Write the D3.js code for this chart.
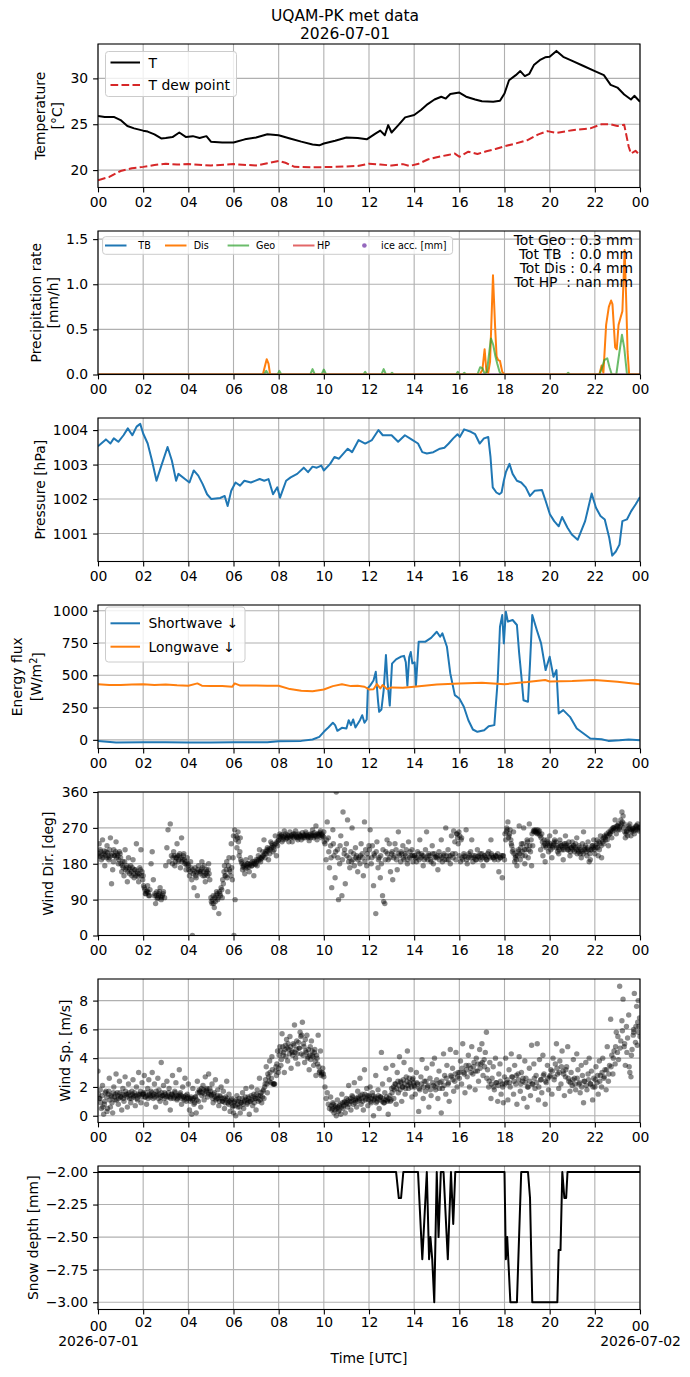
<!DOCTYPE html>
<html>
<head>
<meta charset="utf-8">
<script src="https://cdn.jsdelivr.net/npm/d3@7"></script>
<style>
  body { margin: 0; background: #fff; }
  svg { font-family: "DejaVu Sans", sans-serif; }
  text { fill: #000; font-size: 13.9px; }
  .tick text { font-size: 13.9px; }
  .tick line { stroke: #000; stroke-width: 1.1; }
  .grid line { stroke: #b0b0b0; stroke-width: 1.1; }
</style>
</head>
<body>
<svg id="chart" width="690" height="1377"></svg>
<script>
// ---- data (hours since 2026-07-01 00:00 UTC) ----
const hourTicks = d3.range(0, 25, 2);

const tempT = [[0,25.9],[0.3,25.8],[0.7,25.8],[1.0,25.45],[1.3,24.8],[1.6,24.55],[2.0,24.3],[2.2,24.2],[2.5,23.9],[2.8,23.45],[3.0,23.5],[3.3,23.6],[3.6,24.1],[3.9,23.6],[4.2,23.7],[4.5,23.5],[4.8,23.7],[5.0,23.1],[5.5,23.0],[6.0,23.0],[6.5,23.35],[7.0,23.55],[7.5,23.9],[8.0,23.8],[8.5,23.45],[9.0,23.1],[9.5,22.8],[9.8,22.7],[10.0,22.9],[10.5,23.2],[11.0,23.55],[11.5,23.5],[11.9,23.35],[12.3,24.0],[12.5,24.3],[12.7,23.8],[12.85,24.9],[13.0,24.1],[13.3,24.9],[13.6,25.75],[14.0,26.0],[14.3,26.55],[14.6,27.2],[14.9,27.7],[15.2,28.0],[15.4,27.8],[15.6,28.3],[16.0,28.45],[16.3,28.0],[16.7,27.7],[17.0,27.5],[17.5,27.45],[17.8,27.55],[18.0,28.35],[18.2,29.8],[18.5,30.35],[18.7,30.8],[18.9,30.25],[19.1,30.5],[19.3,31.45],[19.6,32.05],[19.8,32.3],[20.0,32.35],[20.3,33.0],[20.6,32.35],[21.0,31.9],[21.5,31.35],[22.0,30.8],[22.4,30.35],[22.7,29.3],[23.0,29.0],[23.3,28.25],[23.6,27.7],[23.75,28.1],[24.0,27.45]];

const tempDew = [[0,18.9],[0.5,19.25],[1.0,19.9],[1.5,20.2],[2.0,20.35],[2.5,20.55],[3.0,20.7],[3.5,20.6],[4.0,20.65],[5.0,20.5],[6.0,20.65],[7.0,20.5],[7.5,20.75],[8.0,21.0],[8.3,20.8],[8.7,20.35],[9.5,20.3],[10.5,20.35],[11.5,20.45],[12.0,20.7],[12.5,20.6],[13.0,20.5],[13.5,20.65],[13.8,20.45],[14.2,20.7],[14.6,21.15],[15.0,21.4],[15.5,21.65],[15.8,21.8],[16.0,21.45],[16.4,22.0],[16.8,21.75],[17.2,22.05],[17.6,22.3],[18.0,22.6],[18.5,22.9],[19.0,23.25],[19.5,23.9],[19.9,24.25],[20.3,24.05],[21.0,24.35],[21.8,24.55],[22.3,25.0],[22.7,25.0],[23.0,24.8],[23.3,24.95],[23.5,22.55],[23.6,21.8],[23.8,22.1],[24.0,21.6]];

const precipTB = [[0,0],[24,0]];
const precipDis = [[0,0],[7.3,0],[7.38,0.08],[7.47,0.17],[7.55,0.12],[7.62,0],[16.9,0],[17.02,0.05],[17.12,0.28],[17.2,0.03],[17.28,0.02],[17.36,0.14],[17.49,1.1],[17.58,0.55],[17.65,0.2],[17.72,0.16],[17.8,0.15],[17.9,0.03],[18.0,0],[22.2,0],[22.3,0.1],[22.38,0.02],[22.5,0.55],[22.62,0.75],[22.72,0.82],[22.78,0.78],[22.9,0.3],[22.97,0.28],[23.05,0.55],[23.15,0.64],[23.22,0.7],[23.32,1.38],[23.38,0.9],[23.45,0.25],[23.52,0],[24,0]];
const precipGeo = [[0,0],[7.35,0],[7.45,0.04],[7.55,0],[7.95,0],[8.03,0.04],[8.12,0],[9.4,0],[9.5,0.06],[9.6,0],[9.9,0],[10.0,0.055],[10.1,0],[11.75,0],[11.83,0.03],[11.9,0],[12.55,0],[12.65,0.06],[12.75,0],[12.95,0],[13.02,0.02],[13.1,0],[15.85,0],[15.93,0.03],[16.0,0],[16.15,0],[16.22,0.02],[16.3,0],[16.8,0],[16.92,0.08],[17.02,0.07],[17.12,0.01],[17.22,0.03],[17.4,0.4],[17.5,0.33],[17.6,0.2],[17.68,0.12],[17.78,0.03],[17.85,0],[20.75,0],[20.82,0.02],[20.9,0],[22.2,0],[22.3,0.06],[22.42,0.16],[22.55,0.18],[22.65,0.08],[22.75,0],[22.95,0],[23.05,0.18],[23.2,0.44],[23.3,0.3],[23.42,0.01],[23.5,0],[24,0]];
const precipHP = [[0,0],[24,0]];
const precipTotals = ['Tot Geo : 0.3 mm', 'Tot TB  : 0.0 mm', 'Tot Dis : 0.4 mm', 'Tot HP  : nan mm'];
const precipLegend = [
  { name: 'TB', color: '#1f77b4', kind: 'line' },
  { name: 'Dis', color: '#ff7f0e', kind: 'line' },
  { name: 'Geo', color: '#2ca02c', kind: 'line', alpha: 0.7 },
  { name: 'HP', color: '#d62728', kind: 'line', alpha: 0.7 },
  { name: 'ice acc. [mm]', color: '#9467bd', kind: 'dot' }
];

const pressure = [[0,1003.53],[0.35,1003.73],[0.55,1003.61],[0.7,1003.76],[0.9,1003.66],[1.13,1003.85],[1.32,1004.05],[1.52,1003.85],[1.71,1004.1],[1.87,1004.18],[2.0,1003.9],[2.2,1003.61],[2.39,1003.12],[2.59,1002.53],[2.78,1002.92],[3.08,1003.51],[3.27,1003.12],[3.46,1002.53],[3.56,1002.73],[3.85,1002.58],[4.05,1002.48],[4.24,1002.83],[4.44,1002.68],[4.63,1002.44],[4.83,1002.14],[5.02,1002.0],[5.41,1002.03],[5.61,1002.09],[5.74,1001.8],[5.9,1002.24],[6.09,1002.48],[6.29,1002.39],[6.48,1002.53],[6.77,1002.48],[7.16,1002.58],[7.36,1002.53],[7.55,1002.58],[7.75,1002.14],[7.94,1002.34],[8.06,1002.04],[8.33,1002.53],[8.53,1002.63],[8.82,1002.73],[9.11,1002.91],[9.3,1002.78],[9.5,1002.94],[9.69,1002.91],[9.89,1002.97],[10.0,1002.83],[10.28,1003.02],[10.47,1003.22],[10.67,1003.17],[11.06,1003.46],[11.25,1003.36],[11.54,1003.71],[11.83,1003.61],[12.13,1003.71],[12.42,1004.0],[12.61,1003.85],[13.0,1003.85],[13.29,1003.66],[13.59,1003.85],[13.88,1003.73],[14.17,1003.61],[14.36,1003.36],[14.56,1003.32],[14.85,1003.36],[15.14,1003.46],[15.34,1003.49],[15.53,1003.61],[15.73,1003.76],[15.92,1003.88],[16.02,1003.8],[16.21,1004.02],[16.51,1003.95],[16.7,1003.88],[16.9,1003.61],[17.09,1003.76],[17.28,1003.8],[17.38,1003.22],[17.48,1002.34],[17.64,1002.19],[17.77,1002.14],[17.87,1002.19],[17.97,1002.53],[18.06,1002.78],[18.22,1003.02],[18.36,1002.73],[18.55,1002.53],[18.74,1002.48],[18.94,1002.34],[19.13,1002.09],[19.33,1002.24],[19.66,1002.26],[19.82,1001.95],[20.01,1001.56],[20.2,1001.36],[20.4,1001.21],[20.55,1001.48],[20.79,1001.17],[20.98,1000.97],[21.24,1000.82],[21.57,1001.36],[21.86,1002.16],[22.05,1001.75],[22.25,1001.51],[22.44,1001.41],[22.64,1000.87],[22.77,1000.36],[22.93,1000.48],[23.09,1000.68],[23.22,1001.36],[23.42,1001.41],[23.61,1001.65],[23.81,1001.85],[24.0,1002.06]];

const shortwave = [[0,-8],[0.8,-20],[2,-18],[3,-19],[4,-20],[5,-20],[6,-18],[7,-18],[7.5,-18],[8,-10],[9,-8],[9.5,3],[9.8,23],[10,62],[10.2,96],[10.4,132],[10.5,114],[10.6,70],[10.8,93],[11,88],[11.1,152],[11.2,114],[11.3,158],[11.4,96],[11.6,152],[11.7,191],[11.8,132],[11.9,158],[11.95,400],[12.05,420],[12.2,460],[12.3,527],[12.4,300],[12.45,217],[12.55,235],[12.65,385],[12.75,656],[12.82,450],[12.92,265],[13.02,590],[13.2,623],[13.4,643],[13.55,650],[13.63,600],[13.7,420],[13.78,640],[13.85,680],[13.92,592],[14.02,600],[14.08,424],[14.2,760],[14.5,760],[14.75,790],[15.0,837],[15.15,798],[15.25,824],[15.45,721],[15.6,514],[15.8,346],[16.0,320],[16.2,256],[16.4,152],[16.6,80],[16.8,62],[17.1,75],[17.3,106],[17.55,114],[17.7,463],[17.8,876],[17.9,966],[17.97,747],[18.06,992],[18.15,915],[18.36,928],[18.55,889],[18.65,669],[18.75,488],[18.84,307],[19.04,295],[19.13,592],[19.23,966],[19.43,850],[19.62,747],[19.82,540],[20.0,643],[20.17,488],[20.3,540],[20.4,204],[20.6,230],[20.9,178],[21.2,88],[21.5,49],[21.8,10],[22.3,5],[22.6,-8],[23.1,-3],[23.5,3],[24,-3]];
const longwave = [[0,431],[0.5,425],[1,424],[1.5,428],[2,431],[2.5,425],[3,429],[3.5,423],[4,419],[4.4,437],[4.6,419],[5,416],[5.5,416],[5.95,412],[6.05,437],[6.3,420],[7,421],[7.5,419],[8,419],[8.5,393],[9,380],[9.5,377],[10,390],[10.4,416],[10.8,431],[11.2,416],[11.5,418],[11.8,411],[12,390],[12.2,392],[12.35,431],[12.5,398],[12.6,424],[12.8,393],[13,406],[13.5,403],[14,411],[15,429],[16,437],[17,442],[18,431],[19,447],[19.8,463],[20,452],[21,455],[22,463],[23,450],[24,431]];

const windDir = [[0.0,200],[0.05,230],[0.1,215],[0.15,190],[0.2,240],[0.25,205],[0.3,175],[0.35,210],[0.4,225],[0.45,200],[0.5,195],
[0.55,245],[0.6,130],[0.65,165],[0.7,215],[0.75,200],[0.8,235],[0.85,205],[0.9,180],[0.95,210],[1.0,195],
[1.05,160],[1.1,185],[1.15,150],[1.2,215],[1.25,170],[1.3,135],[1.35,195],[1.4,155],[1.45,175],[1.5,150],
[1.55,190],[1.6,145],[1.65,165],[1.7,230],[1.75,155],[1.8,135],[1.85,170],[1.9,215],[1.95,160],[2.0,150],
[2.05,120],[2.1,105],[2.15,110],[2.2,125],[2.25,100],[2.3,115],[2.35,180],[2.4,210],[2.45,140],
[2.5,100],[2.55,80],[2.6,110],[2.65,95],[2.7,105],[2.75,120],[2.8,90],[2.85,100],[2.9,110],[2.95,95],
[3.0,175],[3.05,220],[3.1,265],[3.15,185],[3.2,280],[3.25,200],[3.3,180],
[3.35,210],[3.4,175],[3.45,195],[3.5,230],[3.55,185],[3.6,200],[3.65,170],[3.7,245],[3.75,190],[3.8,205],[3.85,180],[3.9,165],[3.95,195],[4.0,175],
[4.05,150],[4.1,185],[4.15,140],[4.18,0],[4.2,165],[4.25,120],[4.3,170],[4.35,145],[4.4,100],[4.45,175],
[4.55,160],[4.6,185],[4.65,150],[4.7,175],[4.75,135],[4.8,165],[4.85,150],[4.9,180],[4.95,140],
[5.0,95],[5.05,80],[5.1,100],[5.15,70],[5.2,85],[5.25,110],[5.3,90],[5.35,55],[5.4,105],[5.45,120],[5.5,95],
[5.55,130],[5.6,175],[5.65,150],[5.7,185],[5.75,110],[5.8,195],[5.85,160],[5.9,230],[5.95,140],
[6.0,250],[6.02,0],[6.05,265],[6.07,90],[6.1,240],[6.15,220],[6.2,260],[6.25,200],[6.3,245],
[6.35,185],[6.4,165],[6.45,175],[6.5,155],[6.55,190],[6.6,170],[6.65,180],[6.7,160],[6.75,195],[6.8,175],[6.85,185],[6.9,150],[6.95,180],[7.0,190],
[7.05,175],[7.1,200],[7.15,215],[7.2,185],[7.25,195],[7.3,210],[7.35,240],[7.4,195],[7.45,205],[7.5,220],[7.55,190],[7.6,205],[7.65,235],[7.7,230],[7.75,210],[7.8,215],[7.85,250],[7.9,200],[7.95,225],[8.0,240],
[8.05,255],[8.1,250],[8.15,235],[8.2,240],[8.25,262],[8.3,255],[8.35,245],[8.4,245],[8.45,235],[8.5,260],[8.55,250],[8.6,235],[8.65,255],[8.7,250],[8.75,262],[8.8,245],[8.85,240],[8.9,255],[8.95,250],[9.0,240],[9.05,258],[9.1,250],[9.15,245],[9.2,260],[9.25,250],[9.3,245],[9.35,238],[9.4,255],[9.45,250],[9.5,265],[9.55,245],[9.6,250],[9.65,275],[9.7,240],[9.75,252],[9.8,255],[9.85,262],[9.9,245],[9.95,250],[10.0,260],
[10.05,230],[10.1,190],[10.15,285],[10.2,245],[10.25,170],[10.3,225],[10.35,120],[10.4,265],[10.45,200],[10.5,145],[10.55,360],[10.6,215],[10.65,90],[10.7,180],[10.75,250],[10.8,100],[10.85,310],[10.9,205],[10.95,130],[11.0,230],
[11.05,290],[11.1,185],[11.15,170],[11.2,210],[11.25,270],[11.3,190],[11.35,175],[11.4,220],[11.45,200],[11.5,160],[11.55,195],[11.6,180],[11.65,230],[11.7,205],[11.75,150],[11.8,285],[11.85,215],[11.9,175],[11.95,195],[12.0,225],
[12.05,265],[12.1,180],[12.15,225],[12.2,125],[12.25,200],[12.3,55],[12.35,235],[12.4,170],[12.45,195],[12.5,145],
[12.55,180],[12.6,100],[12.65,85],[12.7,80],[12.75,210],[12.8,240],[12.85,190],[12.9,230],[12.95,160],[13.0,205],
[13.05,140],[13.1,195],[13.15,230],[13.2,215],[13.25,165],[13.3,260],[13.35,200],[13.4,185],[13.45,205],[13.5,225],[13.55,190],[13.6,205],[13.65,215],[13.7,180],[13.75,235],[13.8,195],[13.85,200],[13.9,215],[13.95,185],[14.0,200],
[14.05,195],[14.1,185],[14.15,210],[14.2,205],[14.25,240],[14.3,195],[14.35,200],[14.4,175],[14.45,190],[14.5,215],[14.55,260],[14.6,190],[14.65,205],[14.7,200],[14.75,185],[14.8,225],[14.85,180],[14.9,205],[14.95,198],[15.0,195],[15.05,165],[15.1,210],[15.15,200],[15.2,240],[15.25,185],[15.3,200],[15.35,190],[15.4,270],[15.45,190],[15.5,215],[15.55,200],[15.6,180],[15.65,250],[15.7,205],[15.75,262],[15.8,235],[15.85,190],[15.9,255],[15.95,230],[16.0,200],
[16.05,185],[16.1,245],[16.15,190],[16.2,205],[16.25,198],[16.3,265],[16.35,180],[16.4,195],[16.45,200],[16.5,210],[16.55,240],[16.6,185],[16.65,195],[16.7,200],[16.75,190],[16.8,215],[16.85,200],[16.9,195],[16.95,190],[17.0,205],[17.05,175],[17.1,200],[17.15,195],[17.2,190],[17.25,205],[17.3,210],[17.35,195],[17.4,240],[17.45,200],[17.5,195],[17.55,190],[17.6,200],[17.65,198],[17.7,205],[17.75,160],[17.8,195],[17.85,200],[17.9,145],[17.95,200],[18.0,190],
[18.05,240],[18.1,270],[18.15,285],[18.2,250],[18.25,265],[18.3,230],[18.35,210],[18.4,260],[18.45,185],[18.5,200],
[18.55,175],[18.6,210],[18.65,275],[18.7,190],[18.75,230],[18.8,200],[18.85,270],[18.9,180],[18.95,215],[19.0,240],[19.05,195],[19.1,280],[19.15,210],[19.2,175],[19.25,225],[19.3,260],[19.35,262],[19.4,265],[19.45,255],[19.5,260],[19.55,262],
[19.6,215],[19.65,255],[19.7,200],[19.75,240],[19.8,185],[19.85,220],[19.9,230],[19.95,210],[20.0,250],[20.05,215],[20.1,195],[20.15,225],[20.2,235],[20.25,260],[20.3,220],[20.35,210],[20.4,205],[20.45,240],[20.5,225],[20.55,215],[20.6,190],[20.65,230],[20.7,250],[20.75,225],[20.8,215],[20.85,235],[20.9,200],[20.95,220],[21.0,235],
[21.05,225],[21.1,210],[21.15,230],[21.2,245],[21.25,215],[21.3,225],[21.35,205],[21.4,195],[21.45,230],[21.5,260],[21.55,220],[21.6,215],[21.65,200],[21.7,235],[21.75,185],[21.8,190],[21.85,215],[21.9,225],[21.95,240],[22.0,205],[22.05,220],[22.1,240],[22.15,200],[22.2,215],[22.25,250],[22.3,195],
[22.35,235],[22.4,230],[22.45,245],[22.5,250],[22.55,240],[22.6,225],[22.65,255],[22.7,260],[22.75,245],[22.8,270],[22.85,265],[22.9,290],[22.95,255],[23.0,275],
[23.05,280],[23.1,265],[23.15,290],[23.2,310],[23.25,300],[23.3,280],[23.35,245],[23.4,260],[23.45,250],[23.5,275],[23.55,280],[23.6,250],[23.65,265],[23.7,270],[23.75,255],[23.8,265],[23.85,275],[23.9,280],[23.95,262],[24.0,270],
[0.02,205],[0.08,198],[0.12,210],[0.18,202],[0.22,195],[0.28,212],[0.32,200],[0.38,195],[0.42,208],[0.48,190],[0.52,215],[0.58,200],[0.62,205],[0.68,185],[0.72,200],[0.78,210],[0.82,195],[0.88,200],[0.92,190],[0.98,205],
[1.02,180],[1.08,175],[1.12,170],[1.18,185],[1.22,165],[1.28,175],[1.32,160],[1.38,170],[1.42,165],[1.48,160],[1.52,170],[1.58,155],[1.62,165],[1.68,150],[1.72,160],[1.78,148],[1.82,155],[1.88,165],[1.92,150],[1.98,140],
[2.02,125],[2.08,115],[2.12,105],[2.18,112],[2.22,108],[2.28,100],[2.52,105],[2.58,100],[2.62,92],[2.68,100],[2.72,110],[2.78,98],[2.82,95],[2.88,105],
[3.32,195],[3.38,200],[3.42,185],[3.48,195],[3.52,200],[3.58,190],[3.62,205],[3.68,195],[3.72,185],[3.78,200],[3.82,190],[3.88,185],[3.92,178],[3.98,180],
[4.02,165],[4.08,160],[4.12,170],[4.22,155],[4.28,160],[4.32,150],[4.38,158],[4.42,165],[4.48,160],[4.52,155],[4.58,165],[4.62,170],[4.68,160],[4.72,150],[4.78,155],[4.82,160],[4.88,165],[4.92,155],
[5.02,85],[5.08,90],[5.12,80],[5.18,95],[5.22,100],[5.28,105],[5.32,95],[5.38,110],[5.42,100],[5.48,115],
[5.52,140],[5.58,160],[5.62,150],[5.68,165],[5.72,145],[5.78,175],[5.82,165],[5.88,150],[5.92,170],[5.98,195],
[6.12,250],[6.18,245],[6.22,235],[6.28,210],[6.32,190],[6.38,180],[6.42,172],[6.48,178],[6.52,168],[6.58,175],[6.62,180],[6.68,172],[6.72,178],[6.78,182],[6.82,175],[6.88,180],[6.92,185],[6.98,178],
[7.02,185],[7.08,190],[7.12,188],[7.18,195],[7.22,192],[7.28,198],[7.32,200],[7.38,205],[7.42,210],[7.48,215],[7.52,212],[7.58,218],[7.62,215],[7.68,220],[7.72,225],[7.78,222],[7.82,228],[7.88,230],[7.92,235],[7.98,238],
[8.02,248],[8.08,245],[8.12,252],[8.18,248],[8.22,245],[8.28,250],[8.32,242],[8.38,252],[8.42,250],[8.48,248],[8.52,245],[8.58,252],[8.62,248],[8.68,245],[8.72,255],[8.78,250],[8.82,248],[8.88,245],[8.92,252],[8.98,250],
[9.02,248],[9.08,245],[9.12,252],[9.18,250],[9.22,255],[9.28,250],[9.32,248],[9.38,252],[9.42,245],[9.48,255],[9.52,250],[9.58,258],[9.62,252],[9.68,248],[9.72,255],[9.78,250],[9.82,258],[9.88,252],[9.92,255],[9.98,248],
[10.02,235],[10.12,240],[10.22,210],[10.32,195],[10.42,230],[10.52,210],[10.62,195],[10.72,225],[10.82,190],[10.92,215],[11.02,200],[11.12,195],[11.22,185],[11.32,205],[11.42,195],[11.52,190],[11.62,200],[11.72,195],[11.82,185],[11.92,205],
[12.02,215],[12.12,195],[12.22,205],[12.32,210],[12.42,190],[12.52,200],[12.62,215],[12.72,190],[12.82,205],[12.92,195],[13.02,210],[13.12,200],[13.22,190],[13.32,205],[13.42,210],[13.52,195],[13.62,200],[13.72,190],[13.82,210],[13.92,200],
[14.02,200],[14.12,195],[14.22,190],[14.32,205],[14.42,200],[14.52,195],[14.62,200],[14.72,190],[14.82,205],[14.92,195],[15.02,200],[15.12,190],[15.22,195],[15.32,205],[15.42,200],[15.52,190],[15.62,200],[15.72,195],[15.82,205],[15.88,255],[15.92,245],[15.98,260],[16.02,250],[16.08,240],
[16.12,195],[16.22,200],[16.32,190],[16.42,205],[16.52,195],[16.62,200],[16.72,190],[16.82,198],[16.92,205],[17.02,195],[17.12,200],[17.22,190],[17.32,198],[17.42,205],[17.52,195],[17.62,200],[17.72,190],[17.82,195],[17.92,200],
[18.02,255],[18.08,260],[18.12,265],[18.18,245],[18.22,255],[18.28,240],[18.32,225],[18.38,215],[18.42,205],[18.48,195],[18.52,190],[18.58,200],[18.62,215],[18.68,205],[18.72,220],[18.78,210],[18.82,230],[18.88,215],[18.92,200],[18.98,225],
[19.02,235],[19.08,215],[19.12,225],[19.18,240],[19.22,255],[19.28,262],[19.32,265],[19.38,260],[19.42,258],[19.48,265],[19.52,255],[19.58,250],[19.62,245],[19.68,235],[19.72,225],[19.78,230],[19.82,225],[19.88,240],[19.92,235],[19.98,225],
[20.02,230],[20.08,225],[20.12,220],[20.18,230],[20.22,240],[20.28,235],[20.32,225],[20.38,220],[20.42,215],[20.48,230],[20.52,225],[20.58,220],[20.62,215],[20.68,225],[20.72,230],[20.78,220],[20.82,215],[20.88,225],[20.92,210],[20.98,220],
[21.02,215],[21.08,225],[21.12,220],[21.18,215],[21.22,205],[21.28,210],[21.32,220],[21.38,215],[21.42,210],[21.48,205],[21.52,215],[21.58,225],[21.62,210],[21.68,220],[21.72,215],[21.78,205],[21.82,215],[21.88,225],[21.92,220],[21.98,215],
[22.02,225],[22.08,230],[22.12,220],[22.18,235],[22.22,230],[22.28,225],[22.32,240],[22.38,245],[22.42,250],[22.48,240],[22.52,255],[22.58,250],[22.62,260],[22.68,255],[22.72,265],[22.78,262],[22.82,270],[22.88,272],[22.92,268],[22.98,275],
[23.02,265],[23.08,270],[23.12,275],[23.18,280],[23.22,285],[23.28,270],[23.32,260],[23.38,255],[23.42,262],[23.48,268],[23.52,270],[23.58,265],[23.62,260],[23.68,268],[23.72,262],[23.78,270],[23.82,275],[23.88,265],[23.92,270],[23.98,272]];

const windSpeed = [[0.0,3.1],[0.05,1.2],[0.1,1.8],[0.15,0.5],[0.2,2.1],[0.25,0.1],[0.3,1.0],[0.35,1.7],[0.4,0.3],[0.45,1.5],[0.5,2.6],[0.55,0.6],[0.6,1.3],[0.65,0.2],[0.7,2.0],[0.75,1.1],[0.8,2.9],[0.85,1.6],[0.9,0.8],[0.95,2.4],[1.0,1.3],[1.05,0.4],[1.1,1.9],[1.15,1.0],[1.2,2.7],[1.25,1.5],[1.3,0.6],[1.35,2.2],[1.4,1.2],[1.45,0.9],[1.5,1.7],[1.55,2.5],[1.6,1.4],[1.65,0.7],[1.7,2.0],[1.75,1.1],[1.8,3.0],[1.85,1.5],[1.9,0.9],[1.95,2.3],[2.0,1.6],
[2.05,2.8],[2.1,1.3],[2.15,0.8],[2.2,1.9],[2.25,2.5],[2.3,1.4],[2.35,1.7],[2.4,3.0],[2.45,1.2],[2.5,2.2],[2.55,0.6],[2.6,1.5],[2.65,2.6],[2.7,1.8],[2.75,1.0],[2.8,3.7],[2.85,1.4],[2.9,2.1],[2.95,1.6],[3.0,0.9],[3.05,2.4],[3.1,1.3],[3.15,1.9],[3.2,0.4],[3.25,1.5],[3.3,2.8],[3.35,1.2],[3.4,1.7],[3.45,2.3],[3.5,1.1],[3.55,1.4],[3.6,3.2],[3.65,1.6],[3.7,0.8],[3.75,2.0],[3.8,1.3],[3.85,2.6],[3.9,1.0],[3.95,1.5],[4.0,2.2],
[4.05,0.4],[4.1,1.2],[4.15,0.1],[4.2,1.9],[4.25,0.8],[4.3,1.3],[4.35,0.2],[4.4,2.4],[4.45,1.0],[4.5,1.6],[4.55,0.6],[4.6,1.4],[4.65,2.1],[4.7,1.1],[4.75,2.7],[4.8,1.8],[4.85,1.3],[4.9,2.9],[4.95,1.9],[5.0,1.5],[5.05,2.2],[5.1,0.9],[5.15,1.6],[5.2,2.5],[5.25,1.2],[5.3,1.8],[5.35,0.7],[5.4,1.4],[5.45,2.0],[5.5,1.0],[5.55,1.7],[5.6,0.5],[5.65,1.3],[5.7,2.4],[5.75,0.9],[5.8,1.5],[5.85,0.3],[5.9,1.1],[5.95,0.6],[6.0,0.2],
[6.05,1.0],[6.1,0.0],[6.15,1.4],[6.2,0.6],[6.25,1.2],[6.3,0.2],[6.35,0.9],[6.4,1.6],[6.45,0.5],[6.5,1.1],[6.55,1.9],[6.6,0.8],[6.65,1.3],[6.7,0.1],[6.75,1.0],[6.8,2.0],[6.85,0.7],[6.9,1.5],[6.95,1.2],[7.0,0.4],[7.05,1.8],[7.1,1.0],[7.15,2.6],[7.2,1.4],[7.25,0.9],[7.3,1.7],
[7.35,1.2],[7.4,2.2],[7.45,3.4],[7.5,1.6],[7.55,2.7],[7.6,3.8],[7.65,2.3],[7.7,4.1],[7.75,2.2],[7.8,2.2],[7.85,3.1],[7.9,2.8],[7.95,4.5],[8.0,3.3],
[8.05,4.8],[8.1,3.5],[8.15,5.7],[8.2,4.2],[8.25,3.0],[8.3,4.9],[8.35,5.3],[8.4,3.8],[8.45,4.6],[8.5,5.5],[8.55,3.3],[8.6,4.4],[8.65,5.0],[8.7,6.3],[8.75,4.0],[8.8,5.2],[8.85,3.6],[8.9,4.7],[8.95,5.8],[9.0,4.3],[9.05,6.5],[9.1,5.0],[9.15,3.7],[9.2,4.5],[9.25,5.6],[9.3,4.1],[9.35,3.2],[9.4,4.8],[9.45,5.2],[9.5,4.2],[9.55,3.5],[9.6,4.6],[9.65,2.8],[9.7,4.0],[9.75,5.6],[9.8,3.0],[9.85,4.5],[9.9,2.9],[9.95,3.3],[10.0,2.7],
[10.05,2.0],[10.1,1.2],[10.15,1.6],[10.2,0.8],[10.25,0.5],[10.3,1.3],
[10.35,0.4],[10.4,0.9],[10.45,0.2],[10.5,0.6],[10.55,0.0],[10.6,1.1],[10.65,0.3],[10.7,0.7],[10.75,0.1],[10.8,1.5],[10.85,0.5],[10.9,0.9],[10.95,0.2],[11.0,1.2],[11.05,0.6],[11.1,2.1],[11.15,1.0],[11.2,0.4],[11.25,1.4],[11.3,0.8],[11.35,2.3],[11.4,1.1],[11.45,0.6],[11.5,1.7],
[11.55,1.2],[11.6,2.6],[11.65,0.8],[11.7,1.5],[11.75,0.4],[11.8,3.2],[11.85,1.1],[11.9,1.9],[11.95,0.7],[12.0,1.4],[12.05,2.0],[12.1,0.9],[12.15,1.6],[12.2,0.0],[12.25,1.2],[12.3,2.8],[12.35,1.0],[12.4,1.8],[12.45,0.5],[12.5,1.3],[12.55,4.4],[12.6,2.2],[12.65,0.9],[12.7,1.6],[12.75,3.3],[12.8,1.1],[12.85,0.1],[12.9,2.5],[12.95,1.0],[13.0,1.9],
[13.05,3.5],[13.1,1.2],[13.15,2.2],[13.2,0.8],[13.25,3.0],[13.3,1.6],[13.35,4.1],[13.4,2.4],[13.45,1.0],[13.5,2.0],[13.55,3.7],[13.6,1.5],[13.65,2.7],[13.7,4.5],[13.75,1.9],[13.8,2.3],[13.85,3.2],[13.9,1.3],[13.95,2.6],[14.0,2.1],
[14.05,1.5],[14.1,3.0],[14.15,2.2],[14.2,0.3],[14.25,1.8],[14.3,2.7],[14.35,3.9],[14.4,1.2],[14.45,2.4],[14.5,1.7],[14.55,3.3],[14.6,2.0],[14.65,0.6],[14.7,2.6],[14.75,1.4],[14.8,3.6],[14.85,2.1],[14.9,4.0],[14.95,1.8],[15.0,2.5],[15.05,1.2],[15.1,3.1],[15.15,2.3],[15.2,0.2],[15.25,1.9],[15.3,4.3],[15.35,2.8],[15.4,1.5],[15.45,3.5],[15.5,2.2],[15.55,1.0],[15.6,4.6],[15.65,2.7],[15.7,3.3],[15.75,1.7],[15.8,2.4],[15.85,4.4],[15.9,2.0],[15.95,3.0],[16.0,2.6],
[16.05,3.8],[16.1,2.2],[16.15,5.0],[16.2,3.0],[16.25,1.6],[16.3,3.5],[16.35,2.7],[16.4,4.2],[16.45,2.0],[16.5,3.3],[16.55,4.8],[16.6,2.9],[16.65,3.7],[16.7,1.8],[16.75,4.0],[16.8,3.1],[16.85,2.4],[16.9,4.6],[16.95,3.6],[17.0,5.0],[17.05,2.8],[17.1,3.9],[17.15,4.4],[17.2,5.8],
[17.25,3.2],[17.3,2.0],[17.35,3.7],[17.4,1.2],[17.45,2.6],[17.5,3.4],[17.55,1.8],[17.6,4.0],[17.65,2.3],[17.7,1.0],[17.75,2.9],[17.8,3.6],[17.85,1.5],[17.9,2.2],[17.95,0.9],[18.0,2.7],
[18.05,4.0],[18.1,2.3],[18.15,1.1],[18.2,3.2],[18.25,2.0],[18.3,4.3],[18.35,2.7],[18.4,1.5],[18.45,3.5],[18.5,2.2],[18.55,0.8],[18.6,2.9],[18.65,4.1],[18.7,1.7],[18.75,3.0],[18.8,2.4],[18.85,1.2],[18.9,3.8],[18.95,2.6],[19.0,0.6],[19.05,2.0],[19.1,3.3],[19.15,1.4],[19.2,4.9],[19.25,2.2],[19.3,3.6],[19.35,1.9],[19.4,2.8],[19.45,5.0],[19.5,1.1],[19.55,3.9],[19.6,2.5],[19.65,1.6],[19.7,4.2],[19.75,2.9],[19.8,0.8],[19.85,2.3],[19.9,3.5],[19.95,1.8],[20.0,2.7],
[20.05,3.2],[20.1,1.5],[20.15,4.0],[20.2,2.5],[20.25,3.6],[20.3,5.0],[20.35,2.9],[20.4,1.9],[20.45,3.8],[20.5,2.2],[20.55,4.5],[20.6,3.1],[20.65,1.4],[20.7,2.7],[20.75,3.4],[20.8,4.8],[20.85,2.4],[20.9,1.7],[20.95,3.0],[21.0,2.1],[21.05,3.9],[21.1,2.6],[21.15,1.8],[21.2,4.3],[21.25,3.2],[21.3,2.2],[21.35,1.6],[21.4,3.5],[21.45,2.8],[21.5,0.9],[21.55,2.4],[21.6,3.7],[21.65,1.8],[21.7,2.9],[21.75,4.0],[21.8,2.2],[21.85,3.1],[21.9,1.1],[21.95,2.6],[22.0,2.0],
[22.05,3.4],[22.1,2.3],[22.15,1.5],[22.2,3.8],[22.25,2.8],[22.3,2.0],[22.35,4.0],[22.4,2.6],[22.45,3.2],[22.5,1.8],[22.55,4.8],[22.6,2.4],[22.65,3.5],[22.7,6.7],[22.75,4.2],[22.8,2.9],
[22.85,4.5],[22.9,3.6],[22.95,5.8],[23.0,4.4],[23.05,3.9],[23.1,9.0],[23.15,5.2],[23.2,6.6],[23.25,8.1],[23.3,4.8],[23.35,3.5],[23.4,6.2],[23.45,5.4],[23.5,7.0],[23.55,3.0],[23.6,2.7],[23.65,4.6],[23.7,5.6],
[23.72,6.0],[23.75,8.5],[23.8,5.1],[23.85,7.6],[23.88,4.9],[23.9,6.5],[23.92,8.0],[23.95,6.2],[23.98,6.8],[24.0,5.5],
[0.02,1.5],[0.08,1.2],[0.12,0.9],[0.18,1.4],[0.22,0.6],[0.28,0.8],[0.32,1.6],[0.38,1.3],[0.42,0.5],[0.48,1.7],[0.52,1.1],[0.58,1.4],[0.62,0.9],[0.68,1.6],[0.72,1.3],[0.78,1.5],[0.82,1.1],[0.88,1.4],[0.92,1.2],[0.98,1.6],
[1.02,1.3],[1.08,1.5],[1.12,1.2],[1.18,1.4],[1.22,1.7],[1.28,1.3],[1.32,1.5],[1.38,1.6],[1.42,1.4],[1.48,1.2],[1.52,1.5],[1.58,1.3],[1.62,1.6],[1.68,1.4],[1.72,1.2],[1.78,1.5],[1.82,1.4],[1.88,1.7],[1.92,1.3],[1.98,1.5],
[2.02,1.5],[2.08,1.3],[2.12,1.6],[2.18,1.4],[2.22,1.2],[2.28,1.5],[2.32,1.3],[2.38,1.6],[2.42,1.4],[2.48,1.5],[2.52,1.3],[2.58,1.7],[2.62,1.4],[2.68,1.2],[2.72,1.5],[2.78,1.3],[2.82,1.6],[2.88,1.4],[2.92,1.2],[2.98,1.5],
[3.02,1.3],[3.08,1.4],[3.12,1.6],[3.18,1.3],[3.22,1.2],[3.28,1.5],[3.32,1.4],[3.38,1.3],[3.42,1.6],[3.48,1.4],[3.52,1.2],[3.58,1.3],[3.62,1.5],[3.68,1.4],[3.72,1.2],[3.78,1.3],[3.82,1.1],[3.88,1.4],[3.92,1.2],[3.98,1.3],
[4.02,1.2],[4.08,1.0],[4.12,1.3],[4.18,1.1],[4.22,1.2],[4.28,0.9],[4.32,1.3],[4.38,1.1],[4.42,1.6],[4.48,1.8],[4.52,1.7],[4.58,1.9],[4.62,1.6],[4.68,1.8],[4.72,1.5],[4.78,1.7],[4.82,1.9],[4.88,1.6],[4.92,1.5],[4.98,1.7],
[5.02,1.4],[5.08,1.2],[5.12,1.5],[5.18,1.3],[5.22,1.1],[5.28,1.4],[5.32,1.2],[5.38,1.0],[5.42,1.3],[5.48,1.2],[5.52,1.0],[5.58,1.2],[5.62,0.9],[5.68,1.1],[5.72,1.2],[5.78,0.8],[5.82,1.0],[5.88,0.9],[5.92,1.2],[5.98,0.7],
[6.02,0.9],[6.08,0.7],[6.12,1.1],[6.18,0.8],[6.22,1.0],[6.28,0.6],[6.32,0.9],[6.38,1.2],[6.42,0.8],[6.48,1.0],[6.52,1.3],[6.58,1.1],[6.62,0.9],[6.68,1.2],[6.72,1.0],[6.78,1.4],[6.82,1.1],[6.88,1.3],[6.92,0.9],[6.98,1.2],
[7.02,1.5],[7.08,1.2],[7.12,1.4],[7.18,1.1],[7.22,1.6],[7.28,1.3],[7.32,1.8],[7.38,2.0],[7.42,2.5],[7.48,2.2],[7.52,2.9],[7.58,2.4],[7.62,3.0],[7.68,2.6],[7.72,3.2],[7.78,2.2],[7.82,2.2],[7.88,3.4],[7.92,3.6],[7.98,3.0],
[8.02,4.2],[8.08,4.5],[8.12,3.9],[8.18,4.8],[8.22,4.4],[8.28,4.6],[8.32,4.1],[8.38,4.7],[8.42,5.0],[8.48,4.3],[8.52,4.8],[8.58,4.5],[8.62,4.2],[8.68,4.9],[8.72,4.4],[8.78,4.6],[8.82,4.3],[8.88,5.1],[8.92,4.7],[8.98,5.5],
[9.02,5.6],[9.08,4.2],[9.12,4.8],[9.18,5.3],[9.22,4.4],[9.28,4.0],[9.32,4.6],[9.38,4.2],[9.42,3.9],[9.48,4.5],[9.52,4.1],[9.58,4.4],[9.62,3.8],[9.68,4.2],[9.72,3.6],[9.78,3.4],[9.82,3.1],[9.88,2.8],[9.92,3.0],[9.98,2.9],
[10.32,0.7],[10.38,0.5],[10.42,0.8],[10.48,0.4],[10.52,0.7],[10.58,0.5],[10.62,0.6],[10.68,0.4],[10.72,0.8],[10.78,0.6],[10.82,0.9],[10.88,0.7],[10.92,1.0],[10.98,0.8],[11.02,0.9],[11.08,1.1],[11.12,0.8],[11.18,1.2],[11.22,1.0],[11.28,1.3],[11.32,1.1],[11.38,0.9],[11.42,1.2],[11.48,1.0],
[11.52,1.3],[11.58,1.1],[11.62,1.4],[11.68,1.2],[11.72,1.0],[11.78,1.3],[11.82,1.5],[11.88,1.2],[11.92,1.4],[11.98,1.1],[12.02,1.3],[12.08,1.0],[12.12,1.2],[12.18,1.4],[12.22,1.1],[12.28,1.3],[12.32,0.9],[12.38,1.2],[12.42,1.4],[12.48,1.1],
[12.52,1.3],[12.58,1.0],[12.62,1.2],[12.68,0.9],[12.72,1.1],[12.78,1.3],[12.82,1.0],[12.88,1.2],[12.92,1.4],[12.98,1.1],
[13.02,1.6],[13.08,2.0],[13.12,1.8],[13.18,2.2],[13.22,1.9],[13.28,2.4],[13.32,2.1],[13.38,1.8],[13.42,2.3],[13.48,2.0],[13.52,2.5],[13.58,2.2],[13.62,1.9],[13.68,2.4],[13.72,2.1],[13.78,2.6],[13.82,2.2],[13.88,2.0],[13.92,2.5],[13.98,2.3],
[14.02,2.0],[14.12,2.3],[14.22,1.9],[14.32,2.2],[14.42,2.0],[14.52,2.4],[14.62,2.1],[14.72,1.8],[14.82,2.3],[14.92,2.0],[15.02,2.2],[15.12,1.9],[15.22,2.4],[15.32,2.1],[15.42,2.6],[15.52,2.3],[15.62,2.8],[15.72,2.5],[15.82,2.9],[15.92,2.7],
[16.02,3.0],[16.12,3.3],[16.22,2.9],[16.32,3.2],[16.42,3.5],[16.52,3.0],[16.62,3.4],[16.72,3.1],[16.82,3.6],[16.92,3.3],[17.02,3.7],[17.12,3.4],
[17.22,2.6],[17.32,2.4],[17.42,2.2],[17.52,2.0],[17.62,2.3],[17.72,2.1],[17.82,2.4],[17.92,2.0],
[18.02,2.2],[18.12,2.5],[18.22,2.3],[18.32,2.7],[18.42,2.4],[18.52,2.8],[18.62,2.5],[18.72,2.2],[18.82,2.6],[18.92,2.3],[19.02,2.0],[19.12,2.4],[19.22,2.2],[19.32,2.6],[19.42,2.3],[19.52,2.0],[19.62,2.5],[19.72,2.8],[19.82,2.4],[19.92,2.6],
[20.02,2.8],[20.12,3.1],[20.22,2.7],[20.32,3.3],[20.42,3.0],[20.52,3.4],[20.62,2.9],[20.72,3.2],[20.82,2.6],[20.92,2.3],[21.02,2.5],[21.12,2.2],[21.22,2.6],[21.32,2.3],[21.42,2.0],[21.52,2.4],[21.62,2.1],[21.72,2.5],[21.82,2.2],[21.92,2.0],
[22.02,2.5],[22.12,2.8],[22.22,2.4],[22.32,3.0],[22.42,2.7],[22.52,3.2],[22.62,2.9],[22.72,3.4],[22.82,4.0],[22.92,4.8],[23.02,5.5],[23.12,4.7],[23.22,5.9],[23.32,5.0],[23.42,4.4],[23.52,3.4],[23.62,4.2],[23.72,5.8],[23.82,6.2],[23.92,5.8]];

const snowDepth = [[0,-2],[13.2,-2],[13.32,-2.2],[13.42,-2.2],[13.52,-2],[14.17,-2],[14.36,-2.67],[14.56,-2],[14.66,-2.67],[14.72,-2.5],[14.8,-2.67],[14.89,-3],[15.0,-2],[15.08,-2.5],[15.18,-2],[15.3,-2],[15.49,-2.67],[15.63,-2],[15.73,-2.4],[15.82,-2],[18.0,-2],[18.06,-2.67],[18.12,-2.5],[18.26,-3],[18.55,-3],[18.74,-2],[19.04,-2],[19.13,-2.2],[19.23,-3],[20.34,-3],[20.4,-2.6],[20.48,-2.6],[20.56,-2],[20.65,-2.2],[20.73,-2.2],[20.79,-2],[24,-2]];

// ---- layout ----
const left = 98, right = 640;
const panelH = 143.5;
const panelTop = i => 44 + i * 187;

const svg = d3.select('#chart');
const x = d3.scaleLinear().domain([0, 24]).range([left, right]);
const hourFmt = h => String(h % 24).padStart(2, '0');

function makePanel(i, domain) {
    const top = panelTop(i);
    const bottom = top + panelH;
    const y = d3.scaleLinear().domain(domain).range([bottom, top]);
    const g = svg.append('g');

    svg.append('clipPath').attr('id', 'clip' + i)
        .append('rect')
        .attr('x', left).attr('y', top)
        .attr('width', right - left).attr('height', panelH);

    return { i, top, bottom, y, g };
}

function drawGrid(p, yTicks) {
    const grid = p.g.append('g').attr('class', 'grid');
    grid.selectAll('.gx').data(hourTicks).join('line')
        .attr('x1', d => x(d)).attr('x2', d => x(d))
        .attr('y1', p.top).attr('y2', p.bottom);
    grid.selectAll('.gy').data(yTicks).join('line')
        .attr('x1', left).attr('x2', right)
        .attr('y1', d => p.y(d)).attr('y2', d => p.y(d));
    p.plot = p.g.append('g').attr('clip-path', `url(#clip${p.i})`);
}

function drawAxes(p, yTicks, fmt) {
    const xa = p.g.append('g')
        .attr('transform', `translate(0,${p.bottom})`)
        .call(d3.axisBottom(x).tickValues(hourTicks).tickFormat(hourFmt).tickSize(4.9).tickPadding(4.9));
    const ya = p.g.append('g')
        .attr('transform', `translate(${left},0)`)
        .call(d3.axisLeft(p.y).tickValues(yTicks).tickFormat(fmt).tickSize(4.9).tickPadding(4.9));
    [xa, ya].forEach(a => {
        a.attr('font-size', null).attr('font-family', null);
        a.select('.domain').remove();
    });
    p.g.append('rect')
        .attr('x', left).attr('y', p.top)
        .attr('width', right - left).attr('height', panelH)
        .attr('fill', 'none').attr('stroke', '#000').attr('stroke-width', 1.1);
    return xa;
}

function yLabel(p, lines, xs) {
    const cy = (p.top + p.bottom) / 2;
    lines.forEach((t, k) => {
        svg.append('text')
            .attr('transform', `translate(${xs[k]},${cy}) rotate(-90)`)
            .attr('text-anchor', 'middle')
            .attr('dy', '0.36em')
            .text(t);
    });
}

function drawLine(p, data, color, opts = {}) {
    p.plot.append('path')
        .datum(data)
        .attr('fill', 'none')
        .attr('stroke', color)
        .attr('stroke-width', opts.width || 2)
        .attr('stroke-opacity', opts.alpha || 1)
        .attr('stroke-dasharray', opts.dash || null)
        .attr('stroke-linejoin', 'round')
        .attr('d', d3.line().x(d => x(d[0])).y(d => p.y(d[1])));
}

function drawDots(p, data) {
    p.plot.selectAll('circle').data(data).join('circle')
        .attr('cx', d => x(d[0]))
        .attr('cy', d => p.y(d[1]))
        .attr('r', 2.7)
        .attr('fill', '#000')
        .attr('fill-opacity', 0.45);
}

function legendBox(x0, y0, w, h) {
    svg.append('rect')
        .attr('x', x0).attr('y', y0).attr('width', w).attr('height', h)
        .attr('rx', 3)
        .attr('fill', '#fff').attr('fill-opacity', 0.8)
        .attr('stroke', '#cccccc').attr('stroke-width', 1);
}

function verticalLegend(x0, y0, w, h, items, first, gap) {
    legendBox(x0, y0, w, h);
    items.forEach((it, k) => {
        const yy = y0 + first + k * gap;
        svg.append('line')
            .attr('x1', x0 + 5).attr('x2', x0 + 34.5)
            .attr('y1', yy).attr('y2', yy)
            .attr('stroke', it.color).attr('stroke-width', 2)
            .attr('stroke-dasharray', it.dash || null);
        svg.append('text')
            .attr('x', x0 + 43).attr('y', yy).attr('dy', '0.36em')
            .text(it.name);
    });
}

// ---- title ----
svg.append('text').attr('x', 345).attr('y', 20.5).attr('text-anchor', 'middle')
    .style('font-size', '15.5px').text('UQAM-PK met data');
svg.append('text').attr('x', 345).attr('y', 38.5).attr('text-anchor', 'middle')
    .style('font-size', '15.5px').text('2026-07-01');

// ---- 1: temperature ----
const pT = makePanel(0, [18.1, 33.75]);
drawGrid(pT, [20, 25, 30]);
drawLine(pT, tempT, '#000');
drawLine(pT, tempDew, '#d62728', { dash: '7.7,3.3' });
drawAxes(pT, [20, 25, 30], d3.format('d'));
yLabel(pT, ['Temperature', '[°C]'], [40, 57]);
verticalLegend(105.5, 51.5, 131, 45, [
    { name: 'T', color: '#000' },
    { name: 'T dew point', color: '#d62728', dash: '7.7,3.3' }
], 11, 22.6);

// ---- 2: precipitation ----
const pP = makePanel(1, [0, 1.59]);
const precipTicks = [0, 0.5, 1.0, 1.5];
drawGrid(pP, precipTicks);
drawLine(pP, precipTB, '#1f77b4');
drawLine(pP, precipDis, '#ff7f0e');
drawLine(pP, precipGeo, '#2ca02c', { alpha: 0.7 });
drawLine(pP, precipHP, '#d62728', { alpha: 0.7 });
drawAxes(pP, precipTicks, d3.format('.1f'));
yLabel(pP, ['Precipitation rate', '[mm/h]'], [36, 53]);

legendBox(102.6, 236.7, 350, 17.6);
const legX = [105, 165, 227.6, 293, 364.4];
const legTextX = [138.3, 193.7, 256, 317, 381];
precipLegend.forEach((it, k) => {
    const yy = 245.5;
    if (it.kind === 'line') {
        svg.append('line')
            .attr('x1', legX[k]).attr('x2', legX[k] + 21.5)
            .attr('y1', yy).attr('y2', yy)
            .attr('stroke', it.color).attr('stroke-width', 2)
            .attr('stroke-opacity', it.alpha || 1);
    } else {
        svg.append('circle').attr('cx', legX[k]).attr('cy', yy).attr('r', 2.3).attr('fill', it.color);
    }
    svg.append('text').attr('x', legTextX[k]).attr('y', yy).attr('dy', '0.36em')
        .style('font-size', '9.6px').text(it.name);
});
precipTotals.forEach((t, k) => {
    svg.append('text')
        .attr('x', 633).attr('y', 240 + k * 13.9).attr('dy', '0.36em')
        .attr('text-anchor', 'end')
        .attr('xml:space', 'preserve')
        .style('white-space', 'pre')
        .text(t);
});

// ---- 3: pressure ----
const pPr = makePanel(2, [1000.19, 1004.35]);
const presTicks = [1001, 1002, 1003, 1004];
drawGrid(pPr, presTicks);
drawLine(pPr, pressure, '#1f77b4');
drawAxes(pPr, presTicks, d3.format('d'));
yLabel(pPr, ['Pressure [hPa]'], [40]);

// ---- 4: energy flux ----
const pE = makePanel(3, [-67, 1044]);
const energyTicks = [0, 250, 500, 750, 1000];
drawGrid(pE, energyTicks);
drawLine(pE, shortwave, '#1f77b4');
drawLine(pE, longwave, '#ff7f0e');
drawAxes(pE, energyTicks, d3.format('d'));
yLabel(pE, ['Energy flux'], [17]);
{
    const cy = (pE.top + pE.bottom) / 2;
    const t = svg.append('text')
        .attr('transform', `translate(36,${cy}) rotate(-90)`)
        .attr('text-anchor', 'middle')
        .attr('dy', '0.36em');
    t.append('tspan').text('[W/m');
    t.append('tspan').attr('dy', '-0.42em').style('font-size', '9.7px').text('2');
    t.append('tspan').attr('dy', '0.42em').text(']');
}
verticalLegend(105.5, 607, 139.5, 55, [
    { name: 'Shortwave \u2193', color: '#1f77b4' },
    { name: 'Longwave \u2193', color: '#ff7f0e' }
], 16.3, 23.4);

// ---- 5: wind direction ----
const pD = makePanel(4, [0, 360]);
const dirTicks = [0, 90, 180, 270, 360];
drawGrid(pD, dirTicks);
drawDots(pD, windDir);
drawAxes(pD, dirTicks, d3.format('d'));
yLabel(pD, ['Wind Dir. [deg]'], [48]);

// ---- 6: wind speed ----
const pS = makePanel(5, [-0.47, 9.5]);
const spTicks = [0, 2, 4, 6, 8];
drawGrid(pS, spTicks);
drawDots(pS, windSpeed);
drawAxes(pS, spTicks, d3.format('d'));
yLabel(pS, ['Wind Sp. [m/s]'], [65]);

// ---- 7: snow depth ----
const pN = makePanel(6, [-3.056, -1.954]);
const snowTicks = [-3, -2.75, -2.5, -2.25, -2];
drawGrid(pN, snowTicks);
drawLine(pN, snowDepth, '#000');
const xaN = drawAxes(pN, snowTicks, d3.format('.2f'));
yLabel(pN, ['Snow depth [mm]'], [33]);

xaN.selectAll('.tick text').each(function (d) {
    const t = d3.select(this);
    if (d === 0 || d === 24) {
        t.attr('y', 11.5);
        t.append('tspan').attr('x', 0).attr('dy', '1.1em')
            .text(d === 0 ? '2026-07-01' : '2026-07-02');
    } else {
        t.attr('y', 7.3);
    }
});
svg.append('text').attr('x', (left + right) / 2).attr('y', 1363)
    .attr('text-anchor', 'middle').text('Time [UTC]');
</script>
</body>
</html>
